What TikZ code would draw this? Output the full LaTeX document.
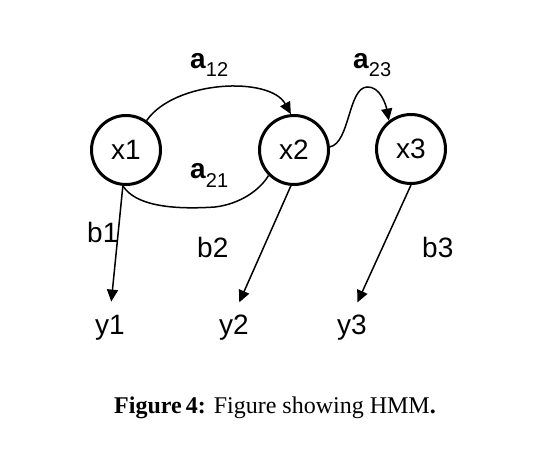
\documentclass[tikz,border=0pt]{standalone}
\usepackage{fontspec}
\setmainfont{Liberation Sans}
\newfontfamily\capfont{Liberation Serif}
\usetikzlibrary{arrows.meta}
\tikzset{
  state/.style={circle, draw, line width=3pt, minimum size=69pt, inner sep=0pt, font=\fontsize{28}{30}\selectfont},
  lab/.style={inner sep=0pt, font=\fontsize{28}{30}\selectfont},
  conn/.style={line width=1.5pt},
  arr/.style={line width=1.5pt, -{Triangle[length=12pt,width=11pt]}},
}
\newcommand{\asub}[1]{\textbf{a}\raisebox{-9pt}{\fontsize{20}{20}\selectfont #1}}
\begin{document}
\begin{tikzpicture}[x=1pt,y=-1pt]
\useasboundingbox[fill=white] (0,0) rectangle (546,452);
\node[state] (x1) at (126,150) {x1};
\node[state] (x2) at (294,150) {x2};
\node[state] (x3) at (411,149) {x3};
\node[lab, anchor=base] (y1) at (110,334) {y1};
\node[lab, anchor=base] (y2) at (234,334) {y2};
\node[lab, anchor=base] (y3) at (352,334) {y3};
\node[lab, anchor=base west] (b1) at (87,242) {b1};
\node[lab, anchor=base west] (b2) at (197,257) {b2};
\node[lab, anchor=base west] (b3) at (422,257) {b3};
\node[lab, anchor=base west] (a12) at (190,68) {\asub{12}};
\node[lab, anchor=base west] (a23) at (353,68) {\asub{23}};
\node[lab, anchor=base west] (a21) at (190,178) {\asub{21}};
% transitions
\draw[arr] (x1.55) .. controls (175,80) and (270,76) .. (x2.95);
\draw[conn] (x1.265) .. controls (135,205) and (170,210) .. (215,207) .. controls (240,204) and (260,190) .. (x2.225);
\draw[arr] (x2.5) .. controls (350,143) and (348,88) .. (367,87) .. controls (380,86) and (386,105) .. (x3.128);
% emissions
\draw[arr, shorten >=13pt] (x1.265) -- (y1.north);
\draw[arr, shorten >=13pt] (x2.265) -- (y2.north);
\draw[arr, shorten >=13pt] (x3.270) -- (y3.north);
% caption
\node[inner sep=0pt, anchor=base, font=\capfont\fontsize{24}{27}\selectfont] (cap) at (275,413) {\textbf{Figure\,4:} Figure showing HMM\textbf{.}};
\end{tikzpicture}
\end{document}
